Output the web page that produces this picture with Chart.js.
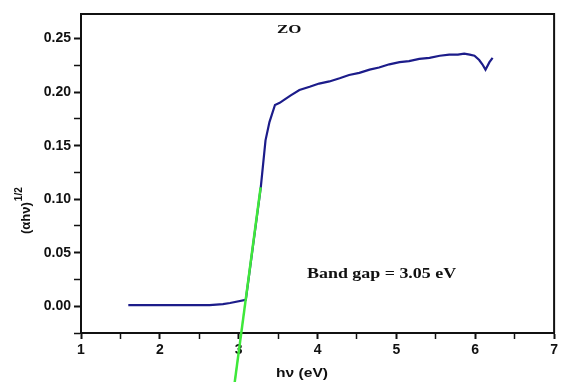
<!DOCTYPE html>
<html>
<head>
<meta charset="utf-8">
<script src="https://cdn.jsdelivr.net/npm/chart.js@4"></script>
<style>
  html, body { margin: 0; padding: 0; background: #fff; }
  #c { display: block; }
</style>
</head>
<body>
<canvas id="c" width="561" height="382"></canvas>
<script>
(function () {
    // ZO absorption curve
    var hv = [1.60, 2.00, 2.40, 2.63, 2.80, 2.89, 3.09, 3.28, 3.34, 3.39, 3.46, 3.52, 3.58, 3.66, 3.77, 3.90, 4.02, 4.15, 4.28, 4.40, 4.53, 4.66, 4.78, 4.91, 5.04, 5.16, 5.29, 5.42, 5.55, 5.67, 5.78, 5.86, 5.93, 5.99, 6.05, 6.09, 6.13, 6.18, 6.22];
    var root = [0.001, 0.001, 0.001, 0.001, 0.002, 0.003, 0.006, 0.111, 0.155, 0.172, 0.188, 0.190, 0.193, 0.197, 0.202, 0.205, 0.208, 0.210, 0.213, 0.216, 0.218, 0.221, 0.223, 0.226, 0.228, 0.229, 0.231, 0.232, 0.234, 0.235, 0.235, 0.236, 0.235, 0.234, 0.230, 0.226, 0.221, 0.228, 0.232];
    // linear fit (Tauc extrapolation)
    var fitX = [2.949, 3.278];
    var fitY = [-0.0712, 0.111];

    var xTicks = [1, 2, 3, 4, 5, 6, 7];
    var yTicks = [0.00, 0.05, 0.10, 0.15, 0.20, 0.25];

    function pts(xs, ys) {
        return xs.map(function (x, i) { return { x: x, y: ys[i] }; });
    }
    function isMajorX(v) { return Math.abs(v - Math.round(v)) < 1e-6; }
    function isMajorY(v) { return Math.round(v * 1000) % 50 === 0; }

    var tickFont = { family: 'Liberation Sans, Arial', size: 14, weight: 'bold' };

    // stretched text, the original picture is a bit wider than tall
    function wideText(ctx, txt, x, y, sx) {
        ctx.save();
        ctx.translate(x, y);
        ctx.scale(sx, 1);
        ctx.fillText(txt, 0, 0);
        ctx.restore();
    }

    var extras = {
        id: 'extras',
        afterDraw: function (chart) {
            var ctx = chart.ctx, a = chart.chartArea;
            ctx.save();
            ctx.strokeStyle = '#111';
            ctx.lineWidth = 2;
            ctx.beginPath();
            ctx.moveTo(a.left, a.top);
            ctx.lineTo(a.right, a.top);
            ctx.lineTo(a.right, a.bottom);
            ctx.stroke();

            ctx.fillStyle = '#111';
            ctx.textBaseline = 'middle';
            ctx.textAlign = 'left';
            ctx.font = 'bold 13px "Liberation Serif", "Times New Roman"';
            wideText(ctx, 'ZO', 277, 30, 1.3);
            ctx.font = 'bold 14px "Liberation Serif", "Times New Roman"';
            wideText(ctx, 'Band gap = 3.05 eV', 307, 274, 1.28);

            // x title
            ctx.font = 'bold 13px "Liberation Sans", Arial';
            wideText(ctx, 'h\u03bd (eV)', 276, 373, 1.2);

            // y title with superscript
            ctx.translate(30, 234);
            ctx.rotate(-Math.PI / 2);
            ctx.textBaseline = 'alphabetic';
            ctx.font = 'bold 13px "Liberation Sans", Arial';
            ctx.fillText('(\u03b1h\u03bd)', 0, 0);
            var w = ctx.measureText('(\u03b1h\u03bd)').width;
            ctx.font = 'bold 10px "Liberation Sans", Arial';
            ctx.fillText('1/2', w + 1, -8);
            ctx.restore();
        }
    };

    new Chart(document.getElementById('c'), {
        type: 'scatter',
        data: {
            datasets: [
                {
                    data: pts(fitX, fitY),
                    showLine: true,
                    borderColor: '#3ee83a',
                    borderWidth: 2.5,
                    pointRadius: 0,
                    clip: false
                },
                {
                    data: pts(hv, root),
                    showLine: true,
                    borderColor: '#1c1c8a',
                    borderWidth: 2.2,
                    pointRadius: 0,
                    tension: 0
                }
            ]
        },
        options: {
            responsive: false,
            animation: false,
            layout: { padding: { top: 14, right: 5, left: 0, bottom: 0 } },
            plugins: { legend: { display: false }, tooltip: { enabled: false } },
            scales: {
                x: {
                    type: 'linear',
                    min: 1, max: 7,
                    afterFit: function (s) { s.height = 49; },
                    ticks: {
                        stepSize: 0.5,
                        color: '#111',
                        font: tickFont,
                        padding: 3,
                        maxRotation: 0,
                        autoSkip: false,
                        callback: function (v) { return xTicks.indexOf(v) >= 0 ? String(v) : ''; }
                    },
                    grid: {
                        drawOnChartArea: false,
                        tickLength: 6,
                        tickColor: '#111',
                        tickWidth: function (c) { return c.tick && isMajorX(c.tick.value) ? 2 : 1.5; }
                    },
                    border: { color: '#111', width: 2 }
                },
                y: {
                    type: 'linear',
                    min: -0.025, max: 0.273,
                    afterFit: function (s) { s.width = 81; },
                    afterBuildTicks: function (s) {
                        s.ticks = s.ticks.filter(function (t) {
                            return Math.abs(t.value / 0.025 - Math.round(t.value / 0.025)) < 1e-6;
                        });
                    },
                    ticks: {
                        stepSize: 0.025,
                        color: '#111',
                        font: tickFont,
                        padding: 3,
                        autoSkip: false,
                        callback: function (v) {
                            for (var i = 0; i < yTicks.length; i++) {
                                if (Math.abs(yTicks[i] - v) < 1e-6) return yTicks[i].toFixed(2);
                            }
                            return '';
                        }
                    },
                    grid: {
                        drawOnChartArea: false,
                        tickLength: 7,
                        tickColor: '#111',
                        tickWidth: function (c) { return c.tick && isMajorY(c.tick.value) ? 2 : 1.5; }
                    },
                    border: { color: '#111', width: 2 }
                }
            }
        },
        plugins: [extras]
    });
})();
</script>
</body>
</html>
